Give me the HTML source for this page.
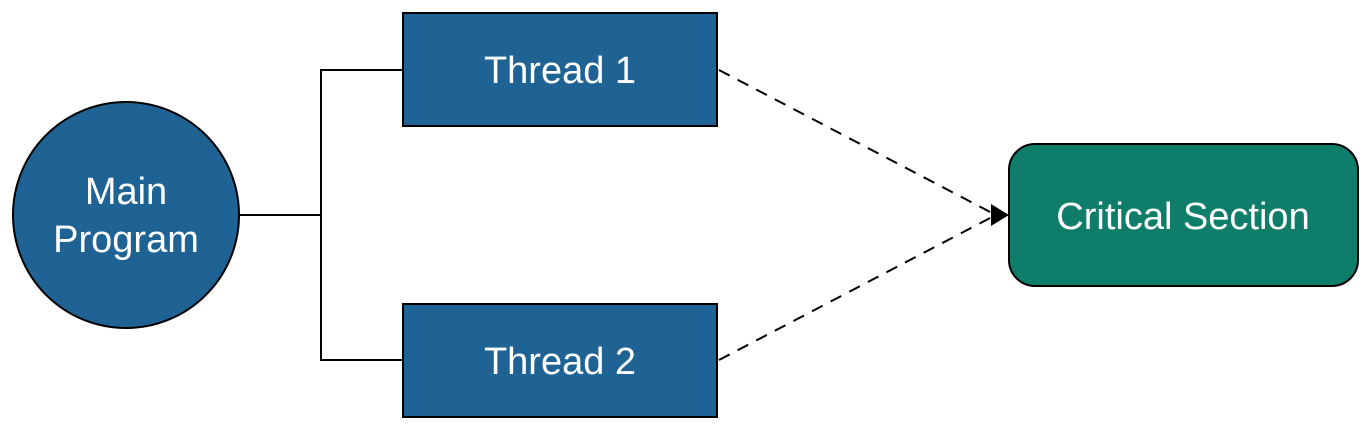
<!DOCTYPE html>
<html><head><style>
body{margin:0;background:#fff;}
svg{display:block;}
text{font-family:"Liberation Sans",sans-serif;font-size:38px;fill:#fff;text-anchor:middle;}
</style></head><body>
<svg width="1372" height="431" viewBox="0 0 1372 431">
<circle cx="126" cy="215" r="113" fill="#1e6394" stroke="#000" stroke-width="2"/>
<text x="126" y="204">Main</text>
<text x="126" y="252">Program</text>
<polyline points="240,215 321,215" stroke="#000" stroke-width="2" fill="none"/>
<polyline points="403,70 321,70 321,360 403,360" stroke="#000" stroke-width="2" fill="none"/>
<rect x="403" y="13" width="314" height="113" fill="#1e6394" stroke="#000" stroke-width="2"/>
<text x="560" y="83">Thread 1</text>
<rect x="403" y="304" width="314" height="113" fill="#1e6394" stroke="#000" stroke-width="2"/>
<text x="560" y="374">Thread 2</text>
<line x1="719" y1="70" x2="992" y2="213" stroke="#000" stroke-width="2" stroke-dasharray="12,9"/>
<line x1="719" y1="360" x2="992" y2="217" stroke="#000" stroke-width="2" stroke-dasharray="12,9"/>
<polygon points="991,204 1009,215 991,226" fill="#000"/>
<rect x="1009" y="144" width="349" height="142" rx="26" fill="#0e7d6a" stroke="#000" stroke-width="2"/>
<text x="1183" y="229">Critical Section</text>
</svg>
</body></html>
